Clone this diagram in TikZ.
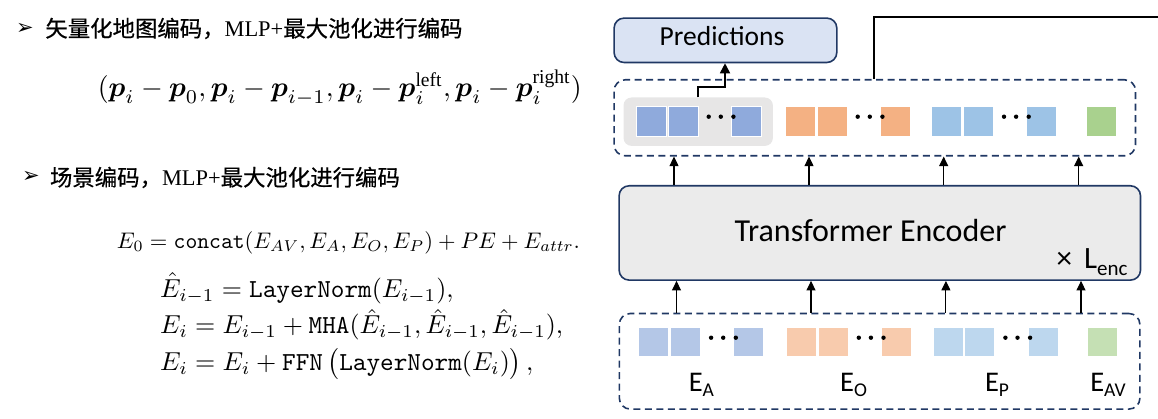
\documentclass[tikz,border=0pt]{standalone}
\usepackage{amsmath}
\usepackage[no-math]{fontspec}
\setmainfont{Carlito}
\newfontfamily\cjk{Noto Sans CJK SC}[FakeBold=0.6]
\newfontfamily\tnr{Liberation Serif}
\newfontfamily\dvs{DejaVu Sans}
\usepackage{graphicx}
\usetikzlibrary{arrows.meta}
\definecolor{navy}{HTML}{203864}
\definecolor{predfill}{HTML}{DAE3F3}
\definecolor{encfill}{HTML}{EBEBEB}
\definecolor{hlgrey}{HTML}{E7E6E6}
\definecolor{cAt}{HTML}{8FAADC}
\definecolor{cOt}{HTML}{F4B183}
\definecolor{cPt}{HTML}{9DC3E6}
\definecolor{cVt}{HTML}{A9D18E}
\definecolor{cAb}{HTML}{B4C7E7}
\definecolor{cOb}{HTML}{F8CBAD}
\definecolor{cPb}{HTML}{BDD7EE}
\definecolor{cVb}{HTML}{C5E0B4}
\newcommand{\Elab}[1]{E\raisebox{-4.5pt}{\fontsize{19.5}{20}\selectfont #1}}
\newcommand{\bp}{\boldsymbol{p}}
\newsavebox\eqboxB
\newdimen\eqskip
\begin{document}
\sbox\eqboxB{$E_i=E_{i-1}+\mathtt{MHA}(\hat{E}_{i-1},\hat{E}_{i-1},\hat{E}_{i-1}),$}%
\pgfmathsetmacro\eqs{403/\wd\eqboxB}%
\pgfmathsetlength\eqskip{36.5/\eqs}%
\begin{tikzpicture}[x=1pt,y=-1pt,
  dbox/.style={draw=navy, dash pattern=on 7pt off 4.5pt, line width=1.6pt, rounded corners=11pt, anchor=north west, inner sep=0},
  sbox/.style={draw=navy, line width=1.6pt, rounded corners=10pt, anchor=north west, inner sep=0},
  sq/.style={draw=white, line width=1pt, anchor=north west, inner sep=0, minimum width=30pt},
  dotm/.style={circle, fill=black, inner sep=0, minimum size=4.4pt},
  arr/.style={-{Triangle[length=9.5pt,width=9pt]}, line width=1.1pt},
  arrb/.style={-{Triangle[length=10pt,width=10pt]}, line width=1.7pt},
  eq/.style={anchor=base west, inner sep=0},
  title/.style={anchor=west, inner sep=0, font=\fontsize{22.4}{26}\selectfont},
  bullet/.style={inner sep=0, font=\dvs\fontsize{21}{21}\selectfont},
  lab/.style={anchor=base, inner sep=0, font=\fontsize{28.5}{30}\selectfont}
]
\useasboundingbox (0,0) rectangle (1158,419);

% ---------- left side ----------
\node[bullet] (b1) at (25,28.5) {➢};
\node[title] (t1) at (45.2,28.5) {{\cjk 矢量化地图编码，}{\tnr MLP+}{\cjk 最大池化进行编码}};
\node[eq] (f1) at (97.6,97) {\resizebox{484pt}{!}{$(\bp_i-\bp_0,\bp_i-\bp_{i-1},\bp_i-\bp_i^{\text{\tnr left}},\bp_i-\bp_i^{\text{\tnr right}})$}};

\node[bullet] (b2) at (31,177.3) {➢};
\node[title] (t2) at (49.8,177.5) {{\cjk 场景编码，}{\tnr MLP+}{\cjk 最大池化进行编码}};

\node[eq] (e0) at (116.7,248.5) {\resizebox{463pt}{!}{$E_0=\mathtt{concat}(E_{AV},E_A,E_O,E_P)+PE+E_{attr}.$}};
\node[eq] (e123) at (160,370.5) {\scalebox{\eqs}{\vbox{\baselineskip=\eqskip\lineskiplimit=-100pt\lineskip=0pt
  \hbox{$\hat{E}_{i-1}=\mathtt{LayerNorm}(E_{i-1}),$}
  \hbox{\usebox\eqboxB}
  \hbox{$E_i=E_i+\mathtt{FFN}\,\bigl(\mathtt{LayerNorm}(E_i)\bigr)\,,$}}}};

% ---------- right side ----------
\node[sbox, fill=predfill, minimum width=222.7pt, minimum height=44.4pt] (pred) at (613.3,17.3) {};
\node[anchor=base, inner sep=0, font=\fontsize{27.5}{28}\selectfont] (predt) at (722,46) {Predictions};

\node[dbox, minimum width=521.4pt, minimum height=76pt] (top) at (613.3,79) {};
\node[fill=hlgrey, rounded corners=8pt, anchor=north west, inner sep=0, minimum width=149.4pt, minimum height=48.4pt] (hl) at (623.3,97.3) {};

\node[sbox, fill=encfill, minimum width=521.4pt, minimum height=94.3pt] (enc) at (618.3,185) {};
\node[anchor=base, inner sep=0, font=\fontsize{32}{32}\selectfont] (enct) at (870.5,241.7) {Transformer Encoder};
\node[anchor=base west, inner sep=0, font=\fontsize{31}{31}\selectfont] (lenc) at (1056.5,268.3) {×\hspace{12pt}L\raisebox{-7.7pt}{\fontsize{21}{21}\selectfont enc}};

\node[dbox, minimum width=520.6pt, minimum height=95.6pt] (bot) at (618.5,312.7) {};

% top row tokens
\foreach \n/\x/\c in {A/636/cAt, O/785/cOt, P/931.3/cPt} {
  \node[sq, fill=\c, minimum height=30pt] (t\n1) at (\x,106) {};
  \node[sq, fill=\c, minimum height=30pt] (t\n2) at (\x+31.7,106) {};
  \node[sq, fill=\c, minimum height=30pt] (t\n3) at (\x+95,106) {};
  \node[dotm] (td\n1) at (\x+72.7,116.7) {};
  \node[dotm] (td\n2) at (\x+84.8,116.7) {};
  \node[dotm] (td\n3) at (\x+97.4,116.7) {};
}
\node[sq, fill=cVt, minimum height=30pt] (tV) at (1085.7,106) {};

% bottom row tokens
\foreach \n/\x/\c in {A/638.4/cAb, O/786.1/cOb, P/932.7/cPb} {
  \node[sq, fill=\c, minimum height=29pt] (b\n1) at (\x,327.3) {};
  \node[sq, fill=\c, minimum height=29pt] (b\n2) at (\x+31.7,327.3) {};
  \node[sq, fill=\c, minimum height=29pt] (b\n3) at (\x+95,327.3) {};
  \node[dotm] (bd\n1) at (\x+72.7,337.7) {};
  \node[dotm] (bd\n2) at (\x+84.8,337.7) {};
  \node[dotm] (bd\n3) at (\x+97.4,337.7) {};
}
\node[sq, fill=cVb, minimum height=29pt] (bV) at (1086.5,327.3) {};

\node[lab] (lA) at (701.4,391.7) {\Elab{A}};
\node[lab] (lO) at (853.5,391.7) {\Elab{O}};
\node[lab] (lP) at (997,391.7) {\Elab{P}};
\node[lab] (lV) at (1108,391.7) {\Elab{AV}};

% connectors
\coordinate (ua1) at (674,0);
\coordinate (ua2) at (809,0);
\coordinate (ua3) at (943.7,0);
\coordinate (ua4) at (1078.7,0);
\coordinate (la1) at (676.5,0);
\coordinate (la2) at (811,0);
\coordinate (la3) at (945.9,0);
\coordinate (la4) at (1081,0);
\foreach \i in {1,2,3,4} {
  \draw[arr] (enc.north -| ua\i) -- (top.south -| ua\i);
  \draw[arr] (bot.north -| la\i) -- (enc.south -| la\i);
}
\coordinate (pa) at (698.3,0);
\coordinate (pe) at (725,87.3);
\draw[arrb] (hl.north -| pa) |- (pe) -- (pred.south -| pe);
\coordinate (rl) at (874,17.3);
\coordinate (redge) at (1158,17.3);
\draw[line width=1.8pt] (top.north -| rl) -- (rl) -- (redge);
\end{tikzpicture}
\end{document}
